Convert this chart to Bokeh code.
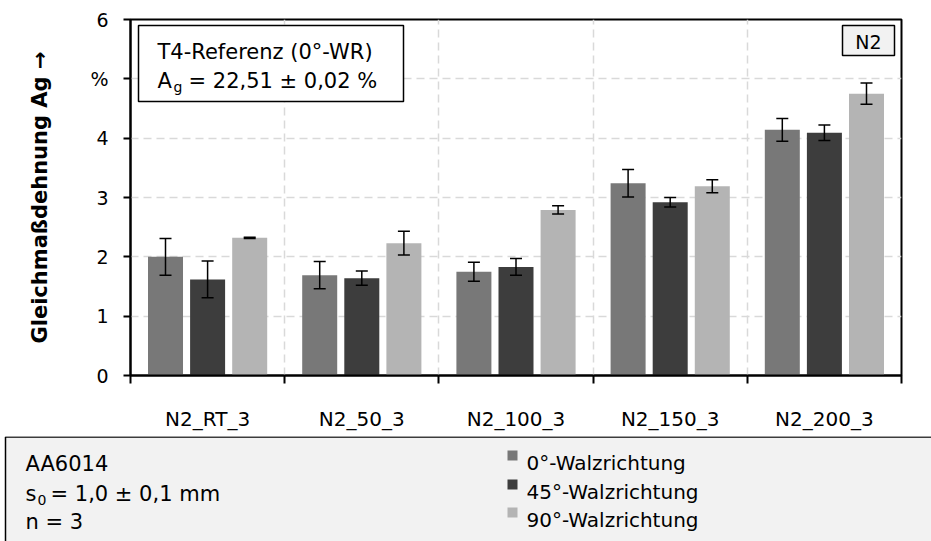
from bokeh.plotting import figure
from bokeh.layouts import column
from bokeh.models import (ColumnDataSource, Range1d, FixedTicker,
                          Whisker, TeeHead, Label, BoxAnnotation)
from bokeh.transform import dodge
from bokeh.embed import file_html
from bokeh.resources import INLINE
from bokeh.core.properties import value

# ---------------- data ----------------
categories = ["N2_RT_3", "N2_50_3", "N2_100_3", "N2_150_3", "N2_200_3"]
series_labels = ["0°-Walzrichtung", "45°-Walzrichtung", "90°-Walzrichtung"]
series_colors = ["#787878", "#3d3d3d", "#b4b4b4"]
ag_0 = [2.00, 1.69, 1.75, 3.24, 4.14]
ag_45 = [1.62, 1.64, 1.83, 2.92, 4.09]
ag_90 = [2.32, 2.23, 2.79, 3.19, 4.75]
err_0 = [0.31, 0.23, 0.16, 0.23, 0.19]
err_45 = [0.31, 0.12, 0.14, 0.08, 0.13]
err_90 = [0.01, 0.20, 0.07, 0.11, 0.18]
y_ticks = [0, 1, 2, 3, 4, 5, 6]
y_tick_labels = ["0", "1", "2", "3", "4", "%", "6"]
y_title = "Gleichmaßdehnung Ag →"
info_lines = ["AA6014", "n = 3"]

FONT = "DejaVu Sans"

# ---------------- layout constants ----------------
W = 931
H_TOP = 436
H_BOT = 105
FL, FR, FT, FB = 130, 30, 19, 61      # frame borders of main plot
FRAME_BOTTOM = H_TOP - FB            # canvas y of frame bottom
DY = 6                               # baseline correction for text


def sx(X):
    return X - FL


def sy(Y):
    return FRAME_BOTTOM - Y


n_cat = len(categories)
centers = [i + 0.5 for i in range(n_cat)]
values = [ag_0, ag_45, ag_90]
errors = [err_0, err_45, err_90]
data = dict(cat=categories, xc=centers)
for i in range(3):
    data[f"v{i}"] = values[i]
    data[f"u{i}"] = [v + e for v, e in zip(values[i], errors[i])]
    data[f"l{i}"] = [v - e for v, e in zip(values[i], errors[i])]
src = ColumnDataSource(data)

p = figure(width=W, height=H_TOP, x_range=Range1d(0, n_cat), y_range=Range1d(0, 6),
           output_backend="svg", toolbar_location=None, tools="",
           min_border_left=FL, min_border_right=FR, min_border_top=FT,
           min_border_bottom=FB)
p.background_fill_color = "white"
p.border_fill_color = "white"
p.outline_line_color = "black"
p.outline_line_width = 2

# grids
p.ygrid.ticker = FixedTicker(ticks=y_ticks[1:-1])
p.xgrid.ticker = FixedTicker(ticks=list(range(1, n_cat)))
for g in (p.xgrid[0], p.ygrid[0]):
    g.grid_line_color = "#d9d9d9"
    g.grid_line_width = 1.5
    g.grid_line_dash = "8 5"

# y axis
ya = p.yaxis[0]
ya.ticker = FixedTicker(ticks=y_ticks)
ya.major_label_overrides = dict(zip(y_ticks, y_tick_labels))
ya.axis_line_width = 2
ya.axis_line_color = "black"
ya.major_tick_out = 7
ya.major_tick_in = 0
ya.major_tick_line_width = 2
ya.major_tick_line_color = "black"
ya.minor_tick_line_color = None
ya.major_label_text_font = FONT
ya.major_label_text_font_size = "19px"
ya.major_label_text_color = "black"
ya.major_label_standoff = 15
ya.axis_label = y_title
ya.axis_label_text_font = FONT
ya.axis_label_text_font_size = "21px"
ya.axis_label_text_font_style = "bold"
ya.axis_label_text_color = "black"
ya.axis_label_standoff = 35

# x axis (labels at category centres, ticks at boundaries)
xa = p.xaxis[0]
xa.ticker = FixedTicker(ticks=centers, minor_ticks=list(range(n_cat + 1)))
xa.major_label_overrides = dict(zip(centers, categories))
xa.axis_line_width = 2
xa.axis_line_color = "black"
xa.major_tick_line_color = None
xa.major_tick_out = 0
xa.major_tick_in = 0
xa.minor_tick_line_color = "black"
xa.minor_tick_line_width = 2
xa.minor_tick_out = 8
xa.minor_tick_in = 0
xa.major_label_text_font = FONT
xa.major_label_text_font_size = "20px"
xa.major_label_text_color = "black"
xa.major_label_standoff = 23

# bars + error bars
offsets = [-0.273, 0.0, 0.273]
bw = 0.227
for i in range(3):
    p.vbar(x=dodge("xc", offsets[i]), top=f"v{i}", width=bw,
           bottom=0, source=src, fill_color=series_colors[i], line_color=None)
    wh = Whisker(base=dodge("xc", offsets[i]), upper=f"u{i}",
                 lower=f"l{i}", source=src, line_color="black", line_width=1.5,
                 level="overlay",
                 upper_head=TeeHead(size=12, line_width=1.5, line_color="black"),
                 lower_head=TeeHead(size=12, line_width=1.5, line_color="black"))
    p.add_layout(wh)

# reference box (top left)
p.add_layout(BoxAnnotation(left=sx(138), right=sx(403), top=sy(25), bottom=sy(101),
                           left_units="screen", right_units="screen",
                           top_units="screen", bottom_units="screen",
                           fill_color="white", fill_alpha=1.0,
                           line_color="black", line_width=1.5, line_alpha=1.0))


def lab(fig, X, Y, text, size, **kw):
    opts = dict(x=sx(X), y=sy(Y - DY), x_units="screen", y_units="screen", text=text,
                text_font=FONT, text_font_size=size, text_color="black",
                text_align="left", text_baseline="alphabetic")
    opts.update(kw)
    fig.add_layout(Label(**opts))


lab(p, 157, 57, "T4-Referenz (0°-WR)", "21px")
lab(p, 157, 86, "A", "21px")
lab(p, 173, 92, "g", "14px")
lab(p, 188, 86, "= 22,51 ± 0,02 %", "21px")

# N2 box
p.add_layout(BoxAnnotation(left=sx(842), right=sx(894), top=sy(25), bottom=sy(55),
                           left_units="screen", right_units="screen",
                           top_units="screen", bottom_units="screen",
                           fill_color="#f2f2f2", fill_alpha=1.0,
                           line_color="black", line_width=1.5, line_alpha=1.0))
lab(p, 868, 47, "N2", "19px", text_align="center")

# ---------------- bottom info / legend panel ----------------
q = figure(width=W, height=H_BOT, x_range=Range1d(0, W), y_range=Range1d(H_BOT, 0),
           output_backend="svg", toolbar_location=None, tools="",
           x_axis_location=None, y_axis_location=None,
           min_border=0, min_border_left=0, min_border_right=0,
           min_border_top=0, min_border_bottom=0)
q.grid.visible = False
q.outline_line_color = None
q.background_fill_color = "white"
q.border_fill_color = "white"
q.quad(left=[5], right=[W + 10], top=[0.5], bottom=[H_BOT + 10],
       fill_color="#f2f2f2", line_color="black", line_width=1.5)

for f in (p, q):
    if "frame_align" in f.properties():
        f.frame_align = False

TB = 436 + DY  # canvas y of the panel top (with text baseline correction)


def qtext(X, Y, text, size, **kw):
    q.text(x=[X], y=[Y - TB], text=[text], text_font=value(FONT),
           text_font_size=size, text_color="black", text_align="left",
           text_baseline="alphabetic", **kw)


qtext(25, 469, info_lines[0], "21px")
qtext(25, 499, "s", "21px")
qtext(37, 505, "0", "14px")
qtext(50, 499, "= 1,0 ± 0,1 mm", "21px")
qtext(25, 527, info_lines[1], "21px")

leg_base = [468, 497, 525]
q.scatter(x=[512] * 3, y=[b - 7 - TB for b in leg_base], marker="square", size=10,
          fill_color=series_colors, line_color=None)
q.text(x=[526] * 3, y=[b - TB for b in leg_base], text=series_labels,
       text_font=value(FONT), text_font_size="20px", text_color="black",
       text_align="left", text_baseline="alphabetic")

layout = column(p, q, spacing=0)
open("out.html", "w").write(file_html(layout, INLINE))
